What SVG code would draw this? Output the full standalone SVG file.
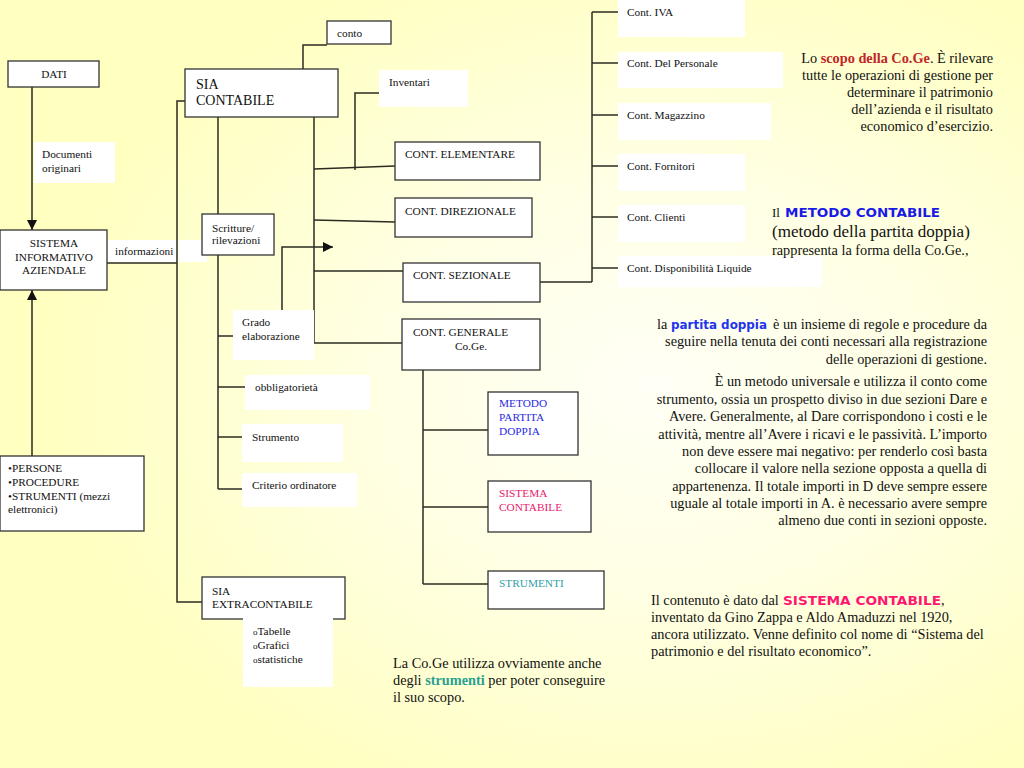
<svg xmlns="http://www.w3.org/2000/svg" width="1024" height="768" viewBox="0 0 1024 768">
<defs>
<radialGradient id="bg" cx="0.64" cy="0.5" r="0.6">
<stop offset="0" stop-color="#FFFFF6"/>
<stop offset="0.45" stop-color="#FFFFE4"/>
<stop offset="1" stop-color="#FFFFC0"/>
</radialGradient>
<marker id="ah" viewBox="0 0 10 10" refX="10" refY="5" markerWidth="10" markerHeight="10" markerUnits="userSpaceOnUse" orient="auto">
<path d="M0,0 L10,5 L0,10 z" fill="#111"/>
</marker>
</defs>
<style>
.box{fill:#fff;stroke:#333;stroke-width:1.3}
.wb{fill:#fff}
.t{font-family:"Liberation Serif","Times New Roman",serif;font-size:11.3px;fill:#111}
.b{font-family:"Liberation Serif","Times New Roman",serif;font-size:14.3px;fill:#111}
.c{font-family:"DejaVu Sans",Verdana,sans-serif;font-weight:bold;font-size:12px}
.ln{fill:none;stroke:#2b2b22;stroke-width:1.5}
</style>
<rect width="1024" height="768" fill="url(#bg)"/>

<g id="connectors" class="ln">
<line x1="32" y1="87" x2="32" y2="230" marker-end="url(#ah)"/>
<line x1="32" y1="456" x2="32" y2="290" marker-end="url(#ah)"/>
<polyline points="107,263 177,263"/>
<polyline points="185,101 177,101 177,602 202,602"/>
<polyline points="303,69 303,45 327,45"/>
<line x1="218" y1="117" x2="218" y2="489"/>
<line x1="218" y1="336" x2="233" y2="336"/>
<line x1="218" y1="387" x2="245" y2="387"/>
<line x1="218" y1="437" x2="242" y2="437"/>
<line x1="218" y1="489" x2="242" y2="489"/>
<line x1="314" y1="117" x2="314" y2="343"/>
<line x1="314" y1="169" x2="395" y2="166"/>
<line x1="314" y1="220" x2="395" y2="222"/>
<line x1="314" y1="271" x2="403" y2="271"/>
<line x1="314" y1="343" x2="402" y2="343"/>
<polyline points="379,93 355,93 355,170"/>
<polyline points="282,310 282,247 333,247" marker-end="url(#ah)"/>
<polyline points="540,282 592,282"/>
<line x1="592" y1="12" x2="592" y2="282"/>
<line x1="592" y1="12" x2="618" y2="12"/>
<line x1="592" y1="63" x2="618" y2="63"/>
<line x1="592" y1="115" x2="618" y2="115"/>
<line x1="592" y1="166" x2="618" y2="166"/>
<line x1="592" y1="217" x2="618" y2="217"/>
<line x1="592" y1="268" x2="618" y2="268"/>
<line x1="423" y1="370" x2="423" y2="584"/>
<line x1="423" y1="430" x2="488" y2="430"/>
<line x1="423" y1="507" x2="488" y2="507"/>
<line x1="423" y1="584" x2="488" y2="584"/>
</g>

<g id="dati"><rect class="box" x="8" y="61" width="91" height="26"/><text class="t" x="54" y="78" text-anchor="middle">DATI</text></g>
<g id="documenti"><rect class="wb" x="34" y="142" width="81" height="41"/><text class="t" x="42" y="158">Documenti</text><text class="t" x="42" y="172">originari</text></g>
<g id="sistema-informativo"><rect class="box" x="0" y="230" width="107" height="60"/>
<text class="t" x="54" y="247" text-anchor="middle">SISTEMA</text><text class="t" x="54" y="261" text-anchor="middle">INFORMATIVO</text><text class="t" x="54" y="274" text-anchor="middle">AZIENDALE</text></g>
<g id="informazioni"><rect class="wb" x="108" y="240" width="68" height="22"/><rect class="wb" x="178" y="240" width="29" height="22"/><text class="t" x="115" y="255">informazioni</text></g>
<g id="persone"><rect class="box" x="0" y="456" width="144" height="75"/>
<text class="t" x="8" y="472">•PERSONE</text><text class="t" x="8" y="486">•PROCEDURE</text><text class="t" x="8" y="500">•STRUMENTI (mezzi</text><text class="t" x="8" y="513">elettronici)</text></g>

<g id="sia-contabile"><rect class="box" x="185" y="69" width="153" height="48"/><text class="t" style="font-size:14px" x="196" y="89">SIA</text><text class="t" style="font-size:14px" x="196" y="105">CONTABILE</text></g>
<g id="conto"><rect class="box" x="327" y="21" width="64" height="23"/><text class="t" x="337" y="37">conto</text></g>
<g id="inventari"><rect class="wb" x="379" y="70" width="89" height="37"/><text class="t" x="389" y="86">Inventari</text></g>
<g id="scritture"><rect class="box" x="202" y="214" width="72" height="41"/><text class="t" x="212" y="232">Scritture/</text><text class="t" x="212" y="244">rilevazioni</text></g>
<g id="grado"><rect class="wb" x="233" y="310" width="81" height="50"/><text class="t" x="242" y="326">Grado</text><text class="t" x="242" y="340">elaborazione</text></g>
<g id="obbligatorieta"><rect class="wb" x="245" y="375" width="125" height="35"/><text class="t" x="255" y="391">obbligatorietà</text></g>
<g id="strumento"><rect class="wb" x="242" y="424" width="101" height="38"/><text class="t" x="252" y="441">Strumento</text></g>
<g id="criterio"><rect class="wb" x="242" y="473" width="115" height="34"/><text class="t" x="252" y="489">Criterio ordinatore</text></g>
<g id="sia-extracontabile"><rect class="box" x="202" y="577" width="143" height="42"/><text class="t" x="212" y="595">SIA</text><text class="t" x="212" y="608">EXTRACONTABILE</text></g>
<g id="tabelle"><rect class="wb" x="243" y="617" width="90" height="70"/>
<text class="t" x="253" y="635"><tspan font-size="9">o</tspan>Tabelle</text><text class="t" x="253" y="649"><tspan font-size="9">o</tspan>Grafici</text><text class="t" x="253" y="663"><tspan font-size="9">o</tspan>statistiche</text></g>

<g id="cont-elementare"><rect class="box" x="395" y="142" width="145" height="38"/><text class="t" x="405" y="158">CONT. ELEMENTARE</text></g>
<g id="cont-direzionale"><rect class="box" x="395" y="198" width="137" height="39"/><text class="t" x="405" y="215">CONT. DIREZIONALE</text></g>
<g id="cont-sezionale"><rect class="box" x="403" y="263" width="137" height="39"/><text class="t" x="413" y="279">CONT. SEZIONALE</text></g>
<g id="cont-generale"><rect class="box" x="402" y="319" width="138" height="51"/><text class="t" x="413" y="336">CONT. GENERALE</text><text class="t" x="471" y="350" text-anchor="middle">Co.Ge.</text></g>
<g id="metodo"><rect class="box" x="488" y="392" width="90" height="63"/>
<text class="t" style="fill:#2a2ae0" x="499" y="407">METODO</text><text class="t" style="fill:#2a2ae0" x="499" y="421">PARTITA</text><text class="t" style="fill:#2a2ae0" x="499" y="435">DOPPIA</text></g>
<g id="sistema-contabile"><rect class="box" x="488" y="481" width="103" height="51"/>
<text class="t" style="fill:#e8206e" x="499" y="497">SISTEMA</text><text class="t" style="fill:#e8206e" x="499" y="511">CONTABILE</text></g>
<g id="strumenti"><rect class="box" x="488" y="571" width="116" height="38"/><text class="t" style="fill:#2fa0a8" x="499" y="587">STRUMENTI</text></g>

<g id="cont-iva"><rect class="wb" x="618" y="0" width="127" height="37"/><text class="t" x="627" y="16">Cont. IVA</text></g>
<g id="cont-personale"><rect class="wb" x="618" y="52" width="165" height="36"/><text class="t" x="627" y="67">Cont. Del Personale</text></g>
<g id="cont-magazzino"><rect class="wb" x="618" y="103" width="153" height="37"/><text class="t" x="627" y="119">Cont. Magazzino</text></g>
<g id="cont-fornitori"><rect class="wb" x="618" y="154" width="127" height="37"/><text class="t" x="627" y="170">Cont. Fornitori</text></g>
<g id="cont-clienti"><rect class="wb" x="618" y="205" width="127" height="37"/><text class="t" x="627" y="221">Cont. Clienti</text></g>
<g id="cont-disponibilita"><rect class="wb" x="618" y="256" width="204" height="31"/><text class="t" x="627" y="272">Cont. Disponibilità Liquide</text></g>

<g id="scopo">
<text class="b" x="993" y="63" text-anchor="end">Lo <tspan font-weight="bold" fill="#c0262a">scopo della Co.Ge</tspan>. È rilevare</text>
<text class="b" x="993" y="80" text-anchor="end">tutte le operazioni di gestione per</text>
<text class="b" x="993" y="97" text-anchor="end">determinare il patrimonio</text>
<text class="b" x="993" y="114" text-anchor="end">dell’azienda e il risultato</text>
<text class="b" x="993" y="131" text-anchor="end">economico d’esercizio.</text>
</g>
<g id="metodo-contabile">
<text class="b" style="font-size:13px" x="772" y="217">Il</text>
<text class="c" fill="#1a1ae8" x="785" y="217" textLength="155" lengthAdjust="spacingAndGlyphs">METODO CONTABILE</text>
<text class="b" style="font-size:17px" x="772" y="237">(metodo della partita doppia)</text>
<text class="b" x="772" y="255">rappresenta la forma della Co.Ge.,</text>
</g>
<g id="partita-doppia">
<text class="b" x="657" y="329">la</text>
<text class="c" fill="#2233ee" x="671" y="329" textLength="96" lengthAdjust="spacingAndGlyphs">partita doppia</text>
<text class="b" x="987" y="329" text-anchor="end">è un insieme di regole e procedure da</text>
<text class="b" x="987" y="346" text-anchor="end">seguire nella tenuta dei conti necessari alla registrazione</text>
<text class="b" x="987" y="364" text-anchor="end">delle operazioni di gestione.</text>
<text class="b" x="987" y="386" text-anchor="end">È un metodo universale e utilizza il conto come</text>
<text class="b" x="987" y="404" text-anchor="end">strumento, ossia un prospetto diviso in due sezioni Dare e</text>
<text class="b" x="987" y="421" text-anchor="end">Avere. Generalmente, al Dare corrispondono i costi e le</text>
<text class="b" x="987" y="439" text-anchor="end">attività, mentre all’Avere i ricavi e le passività. L’importo</text>
<text class="b" x="987" y="456" text-anchor="end">non deve essere mai negativo: per renderlo così basta</text>
<text class="b" x="987" y="473" text-anchor="end">collocare il valore nella sezione opposta a quella di</text>
<text class="b" x="987" y="491" text-anchor="end">appartenenza. Il totale importi in D deve sempre essere</text>
<text class="b" x="987" y="508" text-anchor="end">uguale al totale importi in A. è necessario avere sempre</text>
<text class="b" x="987" y="525" text-anchor="end">almeno due conti in sezioni opposte.</text>
</g>
<g id="contenuto">
<text class="b" x="651" y="605">Il contenuto è dato dal</text>
<text class="c" fill="#ff1670" x="783" y="605" textLength="158" lengthAdjust="spacingAndGlyphs">SISTEMA CONTABILE</text>
<text class="b" x="941" y="605">,</text>
<text class="b" x="651" y="622">inventato da Gino Zappa e Aldo Amaduzzi nel 1920,</text>
<text class="b" x="651" y="639">ancora utilizzato. Venne definito col nome di “Sistema del</text>
<text class="b" x="651" y="656">patrimonio e del risultato economico”.</text>
</g>
<g id="coge-strumenti">
<text class="b" x="393" y="668">La Co.Ge utilizza ovviamente anche</text>
<text class="b" x="393" y="685">degli <tspan font-weight="bold" fill="#2a9f93">strumenti</tspan> per poter conseguire</text>
<text class="b" x="393" y="702">il suo scopo.</text>
</g>
</svg>
